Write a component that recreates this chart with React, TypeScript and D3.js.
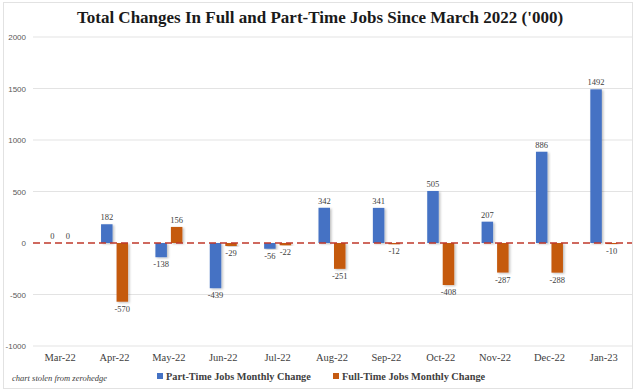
import React from "react";
import * as d3 from "d3";

const categories = ["Mar-22","Apr-22","May-22","Jun-22","Jul-22","Aug-22","Sep-22","Oct-22","Nov-22","Dec-22","Jan-23"];
const partTime = [0, 182, -138, -439, -56, 342, 341, 505, 207, 886, 1492];
const fullTime = [0, -570, 156, -29, -22, -251, -12, -408, -287, -288, -10];
const yTicks = [-1000, -500, 0, 500, 1000, 1500, 2000];
const seriesNames = ["Part-Time Jobs Monthly Change", "Full-Time Jobs Monthly Change"];
const colors = ["#4472C4", "#C55A11"];

export default function App() {
  const W = 640, H = 391;
  const x = d3.scaleBand<string>().domain(categories).range([33, 631]).padding(0);
  const y = d3.scaleLinear().domain([-1000, 2000]).range([346, 37]);
  const bw = 11.5;
  const series = [partTime, fullTime];
  const offsets = [-13.5, 2];

  return (
    <svg width={W} height={H} style={{ position: "absolute", left: 0, top: 0, background: "#fff" }}>
      <defs>
        <filter id="sh" x="-30%" y="-10%" width="160%" height="130%">
          <feDropShadow dx="1.5" dy="1" stdDeviation="1" floodColor="#000" floodOpacity="0.25" />
        </filter>
      </defs>
      <rect x={0} y={0} width={W} height={H} fill="#fff" />
      <rect x={3.5} y={2.5} width={629} height={386} fill="none" stroke="#e2e2e2" />
      <text x={320} y={23} textAnchor="middle" fontFamily="Liberation Serif" fontWeight="bold" fontSize={17} fill="#1a1a1a">
        Total Changes In Full and Part-Time Jobs Since March 2022 ('000)
      </text>
      {yTicks.map(t => (
        <g key={t}>
          {t !== 0 && <line x1={33} x2={632} y1={y(t)} y2={y(t)} stroke="#e3e3e3" strokeWidth={1} />}
          <text x={26} y={y(t) + 3} textAnchor="end" fontFamily="Liberation Sans" fontSize={8} fill="#595959">{t}</text>
        </g>
      ))}
      {series.map((vals, si) =>
        vals.map((v, i) => {
          const cx = (x(categories[i]) as number) + x.bandwidth() / 2;
          const bx = cx + offsets[si];
          const y0 = y(0), y1 = y(v);
          return (
            <g key={si + "-" + i}>
              {v !== 0 && (
                <rect x={bx} y={Math.min(y0, y1)} width={bw} height={Math.abs(y1 - y0)} fill={colors[si]} filter="url(#sh)" />
              )}
              <text x={bx + bw / 2} y={v >= 0 ? y1 - 4 : y1 + 10} textAnchor="middle" fontFamily="Liberation Serif" fontSize={8.5} fill="#404040">{v}</text>
            </g>
          );
        })
      )}
      <line x1={33} x2={632} y1={y(0)} y2={y(0)} stroke="#C0392B" strokeWidth={1.5} strokeDasharray="7,4" />
      {categories.map(c => (
        <text key={c} x={(x(c) as number) + x.bandwidth() / 2} y={361} textAnchor="middle" fontFamily="Liberation Serif" fontSize={10.5} fill="#404040">{c}</text>
      ))}
      <text x={12} y={381} fontFamily="Liberation Serif" fontStyle="italic" fontSize={8.5} fill="#404040">chart stolen from zerohedge</text>
      {seriesNames.map((n, i) => {
        const lx = [157, 333][i];
        return (
          <g key={n}>
            <rect x={lx} y={373} width={6} height={6} fill={colors[i]} />
            <text x={lx + 9} y={380} fontFamily="Liberation Serif" fontWeight="bold" fontSize={10.3} fill="#404040">{n}</text>
          </g>
        );
      })}
    </svg>
  );
}
